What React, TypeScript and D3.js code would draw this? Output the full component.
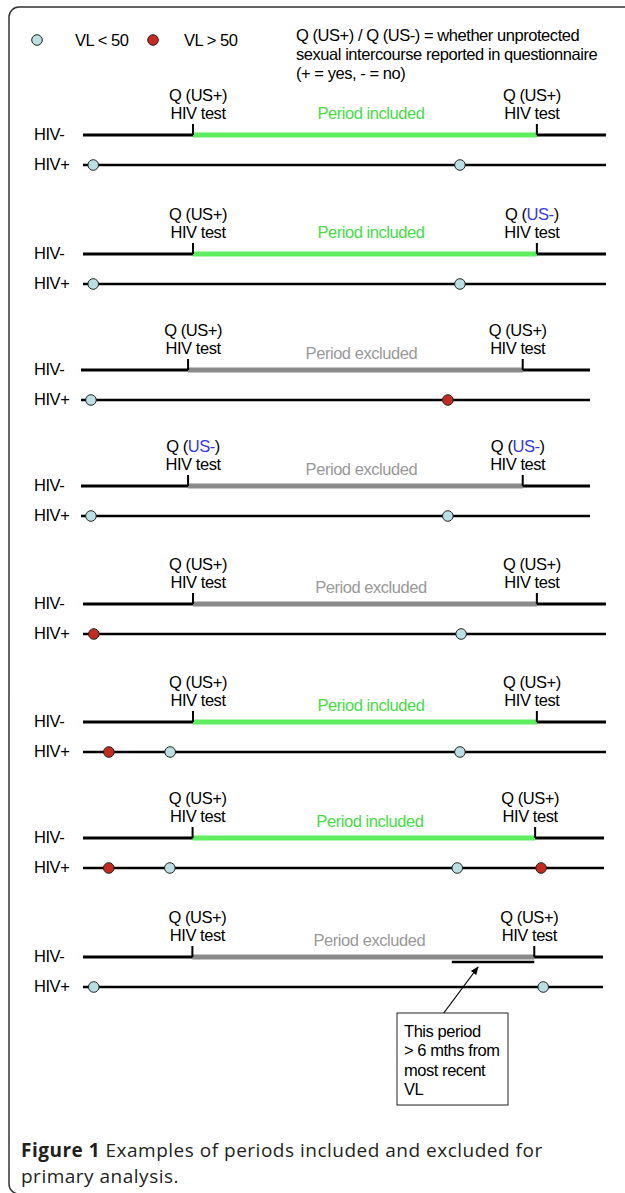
import { useRef, useEffect } from 'react';
import * as d3 from 'd3';

// time along each timeline, in months
const SPAN: [number, number] = [0, 8.7];
const TEST_LEFT = 1.83;
const TEST_RIGHT = 7.55;

const PERIOD_STATUS = ['included', 'included', 'excluded', 'excluded', 'excluded', 'included', 'included', 'excluded'];
const Q_LEFT = ['US+', 'US+', 'US+', 'US-', 'US+', 'US+', 'US+', 'US+'];
const Q_RIGHT = ['US+', 'US-', 'US+', 'US-', 'US+', 'US+', 'US+', 'US+'];

// viral load measurements per panel (month) and whether VL > 50
const VL_MONTHS = [
  [0.17, 6.27],
  [0.17, 6.27],
  [0.17, 6.27],
  [0.17, 6.27],
  [0.18, 6.29],
  [0.43, 1.45, 6.27],
  [0.43, 1.45, 6.25, 7.65],
  [0.18, 7.7],
];
const VL_HIGH = [
  [false, false],
  [false, false],
  [false, true],
  [false, false],
  [true, false],
  [true, false, false],
  [true, false, false, true],
  [false, false],
];

// last panel: part of the period > 6 months after last VL
const GAP_PANEL = 7;
const GAP_START = 6.17;
const NOTE_LINES = ['This period', '> 6 mths from', 'most recent', 'VL'];

const LEGEND_NOTE = [
  'Q (US+) / Q (US-)  = whether unprotected',
  'sexual intercourse reported in questionnaire',
  '(+ = yes, - = no)',
];

// layout
const W = 625, H = 1193;
const ROW_Y = [135, 254, 370, 486, 604, 722, 838, 957];
const ROW_X: [number, number][] = [[83, 606], [83, 606], [81, 590], [81, 590], [83, 606], [83, 606], [83, 604], [83, 603]];
const FONT = '"Liberation Sans", Arial, sans-serif';
const LOW_FILL = '#b9dfe2', HIGH_FILL = '#c62a1e';
const GREEN = '#5cee5c', GREY = '#8a8a8a';

export default function App() {
  const svgRef = useRef<SVGSVGElement>(null);

  useEffect(() => {
    const svg = d3.select(svgRef.current);
    svg.selectAll('*').remove();

    svg.append('defs').append('marker')
      .attr('id', 'arrow')
      .attr('viewBox', '0 0 10 10')
      .attr('refX', 9).attr('refY', 5)
      .attr('markerWidth', 7).attr('markerHeight', 7)
      .attr('orient', 'auto')
      .append('path').attr('d', 'M0,1 L10,5 L0,9 z').attr('fill', '#000');

    // frame (right and bottom run off the page)
    svg.append('rect')
      .attr('x', 9).attr('y', 7).attr('width', 660).attr('height', 1187)
      .attr('rx', 10)
      .attr('fill', 'none').attr('stroke', '#333').attr('stroke-width', 1.5);

    const g = svg.append('g')
      .style('font-family', FONT)
      .style('font-size', '16.5px')
      .style('letter-spacing', '-0.45px');

    // legend
    const dot = (sel: any, cx: number, cy: number, high: boolean) =>
      sel.append('circle')
        .attr('cx', cx).attr('cy', cy).attr('r', 5.3)
        .attr('fill', high ? HIGH_FILL : LOW_FILL)
        .attr('stroke', '#222').attr('stroke-width', 1);

    dot(g, 37, 40, false);
    g.append('text').attr('x', 75).attr('y', 46).text('VL < 50');
    dot(g, 153, 40, true);
    g.append('text').attr('x', 184).attr('y', 46).text('VL > 50');
    g.selectAll('text.note')
      .data(LEGEND_NOTE)
      .join('text')
      .attr('class', 'note')
      .attr('x', 296)
      .attr('y', (_, i) => 41 + i * 19)
      .text(d => d);

    ROW_Y.forEach((y, i) => {
      const x = d3.scaleLinear().domain(SPAN).range(ROW_X[i]);
      const yp = y + 30;
      const p = g.append('g');
      const xl = x(TEST_LEFT), xr = x(TEST_RIGHT);
      const included = PERIOD_STATUS[i] === 'included';

      p.append('text').attr('x', 34).attr('y', y + 5).text('HIV-');
      p.append('text').attr('x', 34).attr('y', yp + 5).text('HIV+');

      // HIV- partner timeline
      p.append('line')
        .attr('x1', x(SPAN[0])).attr('x2', x(SPAN[1]))
        .attr('y1', y).attr('y2', y)
        .attr('stroke', '#000').attr('stroke-width', 3);
      p.append('line')
        .attr('x1', xl).attr('x2', xr)
        .attr('y1', y).attr('y2', y)
        .attr('stroke', included ? GREEN : GREY).attr('stroke-width', 5);
      [xl, xr].forEach(tx => {
        p.append('line')
          .attr('x1', tx).attr('x2', tx).attr('y1', y - 11).attr('y2', y)
          .attr('stroke', '#000').attr('stroke-width', 2);
      });

      // test labels
      [[xl + 5, Q_LEFT[i]], [xr - 5, Q_RIGHT[i]]].forEach(([tx, q]: any) => {
        const t = p.append('text').attr('x', tx).attr('y', y - 34).attr('text-anchor', 'middle');
        t.append('tspan').text('Q (');
        t.append('tspan').attr('fill', q === 'US-' ? '#3535f0' : '#000').text(q);
        t.append('tspan').text(')');
        p.append('text').attr('x', tx).attr('y', y - 16).attr('text-anchor', 'middle').text('HIV test');
      });

      p.append('text')
        .attr('x', (xl + xr) / 2 + 6)
        .attr('y', y + (i < 2 ? -16 : -11))
        .attr('text-anchor', 'middle')
        .attr('fill', included ? '#45dd45' : '#999')
        .text(included ? 'Period included' : 'Period excluded');

      // HIV+ partner timeline with viral loads
      p.append('line')
        .attr('x1', x(SPAN[0])).attr('x2', x(SPAN[1]))
        .attr('y1', yp).attr('y2', yp)
        .attr('stroke', '#000').attr('stroke-width', 2.5);
      VL_MONTHS[i].forEach((m, j) => dot(p, x(m), yp, VL_HIGH[i][j]));

      if (i === GAP_PANEL) {
        p.append('line')
          .attr('x1', x(GAP_START)).attr('x2', xr)
          .attr('y1', y + 5).attr('y2', y + 5)
          .attr('stroke', '#000').attr('stroke-width', 2.5);
        const bx = 397, by = 1013;
        p.append('line')
          .attr('x1', 443).attr('y1', by + 1)
          .attr('x2', x((GAP_START + TEST_RIGHT) / 2 - 0.25)).attr('y2', y + 10)
          .attr('stroke', '#000').attr('stroke-width', 1.2)
          .attr('marker-end', 'url(#arrow)');
        p.append('rect')
          .attr('x', bx).attr('y', by).attr('width', 111).attr('height', 92)
          .attr('fill', '#fff').attr('stroke', '#222').attr('stroke-width', 1);
        p.selectAll('text.box')
          .data(NOTE_LINES)
          .join('text')
          .attr('class', 'box')
          .attr('x', bx + 7)
          .attr('y', (_, k) => by + 24 + k * 19.3)
          .text(d => d);
      }
    });

    // caption
    const cap = svg.append('g')
      .style('font-family', '"Open Sans", "Noto Sans", sans-serif')
      .style('font-size', '19px')
      .style('letter-spacing', '0.5px')
      .attr('fill', '#231f20');
    const l1 = cap.append('text').attr('x', 21).attr('y', 1157);
    l1.append('tspan').attr('font-weight', 'bold').text('Figure 1');
    l1.append('tspan').text(' Examples of periods included and excluded for');
    cap.append('text').attr('x', 21).attr('y', 1183).text('primary analysis.');
  }, []);

  return (
    <svg
      ref={svgRef}
      width={W}
      height={H}
      style={{ position: 'absolute', left: 0, top: 0, background: '#fff' }}
    />
  );
}
